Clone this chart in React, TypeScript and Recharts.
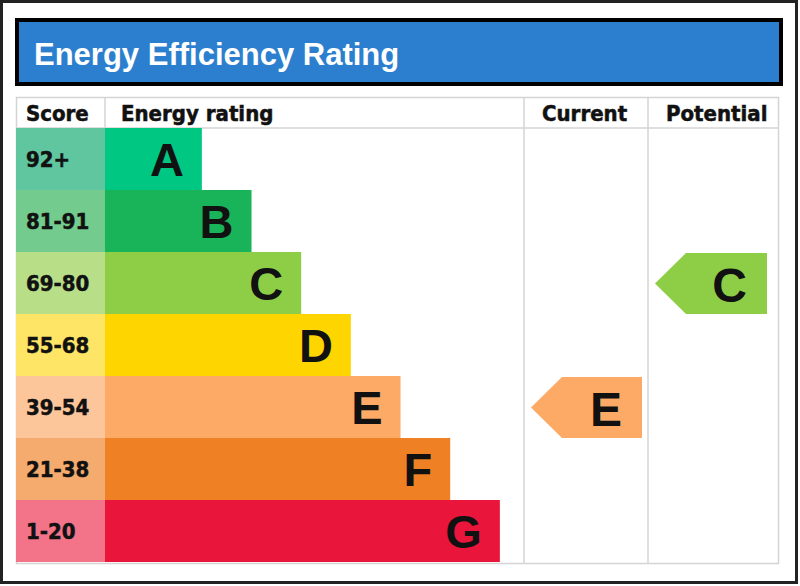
import React from 'react';
import { ComposedChart, Bar, XAxis, YAxis } from 'recharts';

// EPC bands, top (best) to bottom (worst)
const BANDS = ['A', 'B', 'C', 'D', 'E', 'F', 'G'];
const SCORE_RANGES = ['92+', '81-91', '69-80', '55-68', '39-54', '21-38', '1-20'];
const BAR_LENGTHS = [2, 3, 4, 5, 6, 7, 8];
const CURRENT_BAND = 'E';
const POTENTIAL_BAND = 'C';

const BAR_COLORS = ['#00c781', '#19b459', '#8dce46', '#ffd500', '#fcaa65', '#ef8023', '#e9153b'];
const SCORE_COLORS = ['#60c6a0', '#73cb8d', '#b8df88', '#ffe566', '#fdc69a', '#f4ab6d', '#f37389'];

const WIDTH = 800;
const HEIGHT = 586;
const PLOT = { left: 105, right: 779, top: 128, bottom: 562 };
const X_DOMAIN: [number, number] = [0.05, 13.62];
const ROW_H = (PLOT.bottom - PLOT.top) / BANDS.length;

const TEXT_FONT = "'DejaVu Sans Condensed', 'DejaVu Sans', sans-serif";
const LETTER_FONT = "'Liberation Sans', Arial, sans-serif";
const GRID = '#d4d4d4';

const pxToUnits = (px: number) =>
  X_DOMAIN[0] + ((px - PLOT.left) * (X_DOMAIN[1] - X_DOMAIN[0])) / (PLOT.right - PLOT.left);

// arrow spans inside the Current / Potential columns
const CURRENT_SPAN = [pxToUnits(531), pxToUnits(642)];
const POTENTIAL_SPAN = [pxToUnits(655), pxToUnits(767)];

const rows = BANDS.map((band, i) => ({
  band,
  score: SCORE_RANGES[i],
  length: BAR_LENGTHS[i],
  fill: BAR_COLORS[i],
  scoreFill: SCORE_COLORS[i],
}));

function ScoreTick({ y, payload }: any) {
  const row = rows.find((r) => r.band === payload.value);
  if (!row) return null;
  return (
    <g>
      <rect x={16} y={y - ROW_H / 2} width={PLOT.left - 16} height={ROW_H} fill={row.scoreFill} />
      <text
        x={26}
        y={y + 7.5}
        fontFamily={TEXT_FONT}
        fontWeight="bold"
        fontSize={22}
        fill="#111"
        stroke="#111"
        strokeWidth={0.5}
      >
        {row.score}
      </text>
    </g>
  );
}

function RatingBar({ x, y, width, height, payload }: any) {
  return (
    <g>
      <rect x={x} y={y} width={width} height={height} fill={payload.fill} />
      <text
        x={x + width - 18}
        y={y + height / 2 + 17}
        textAnchor="end"
        fontFamily={LETTER_FONT}
        fontWeight="bold"
        fontSize={47}
        fill="#111"
      >
        {payload.band}
      </text>
    </g>
  );
}

const makeArrow = (target: string) =>
  function Arrow({ x, y, width, height, payload }: any) {
    if (payload.band !== target || !(width > 0)) return <g />;
    const top = y + 1;
    const bottom = y + height;
    const mid = (top + bottom) / 2;
    const right = x + width;
    const shoulder = x + 31;
    return (
      <g>
        <polygon
          points={`${x},${mid} ${shoulder},${top} ${right},${top} ${right},${bottom} ${shoulder},${bottom}`}
          fill={payload.fill}
        />
        <text
          x={right - 20}
          y={mid + 18}
          textAnchor="end"
          fontFamily={LETTER_FONT}
          fontWeight="bold"
          fontSize={48}
          fill="#111"
        >
          {payload.band}
        </text>
      </g>
    );
  };

const CurrentArrow = makeArrow(CURRENT_BAND);
const PotentialArrow = makeArrow(POTENTIAL_BAND);

function Frame() {
  return (
    <svg width={WIDTH} height={HEIGHT} style={{ position: 'absolute', left: 0, top: 0 }}>
      <rect x={1.5} y={1.5} width={795} height={581} fill="#fff" stroke="#222" strokeWidth={3} />
      <rect x={17} y={20} width={764} height={64} fill="#2c7fce" stroke="#000" strokeWidth={4} />
      <text x={34} y={65} fontFamily={LETTER_FONT} fontWeight="bold" fontSize={31} fill="#fff">
        Energy Efficiency Rating
      </text>

      <rect x={16.5} y={97.5} width={762} height={466} fill="none" stroke={GRID} strokeWidth={1.5} />
      <line x1={16} x2={779} y1={128} y2={128} stroke={GRID} strokeWidth={1.5} />
      <line x1={105} x2={105} y1={97} y2={128} stroke={GRID} strokeWidth={1.5} />
      <line x1={524} x2={524} y1={97} y2={564} stroke={GRID} strokeWidth={1.5} />
      <line x1={648} x2={648} y1={97} y2={564} stroke={GRID} strokeWidth={1.5} />

      <g fontFamily={TEXT_FONT} fontWeight="bold" fontSize={22} fill="#111" stroke="#111" strokeWidth={0.5}>
        <text x={26} y={121}>Score</text>
        <text x={121} y={121}>Energy rating</text>
        <text x={542} y={121}>Current</text>
        <text x={666} y={121}>Potential</text>
      </g>
    </svg>
  );
}

export default function App() {
  return (
    <div style={{ position: 'relative', width: WIDTH, height: HEIGHT, background: '#fff' }}>
      <style>{'body{margin:0}'}</style>
      <Frame />
      <div style={{ position: 'absolute', left: 0, top: 0 }}>
        <ComposedChart
          width={WIDTH}
          height={HEIGHT}
          layout="vertical"
          data={rows}
          margin={{ top: PLOT.top, right: WIDTH - PLOT.right, bottom: HEIGHT - PLOT.bottom, left: 16 }}
          barCategoryGap={0}
          barGap={0}
        >
          <XAxis type="number" domain={X_DOMAIN} allowDataOverflow hide />
          <YAxis
            type="category"
            dataKey="band"
            width={PLOT.left - 16}
            axisLine={false}
            tickLine={false}
            interval={0}
            tick={<ScoreTick />}
          />
          <YAxis yAxisId="cur" type="category" dataKey="band" hide />
          <YAxis yAxisId="pot" type="category" dataKey="band" hide />
          <Bar dataKey="length" shape={<RatingBar />} isAnimationActive={false} />
          <Bar
            yAxisId="cur"
            dataKey={(d: any) => (d.band === CURRENT_BAND ? CURRENT_SPAN : null)}
            shape={<CurrentArrow />}
            isAnimationActive={false}
          />
          <Bar
            yAxisId="pot"
            dataKey={(d: any) => (d.band === POTENTIAL_BAND ? POTENTIAL_SPAN : null)}
            shape={<PotentialArrow />}
            isAnimationActive={false}
          />
        </ComposedChart>
      </div>
    </div>
  );
}
